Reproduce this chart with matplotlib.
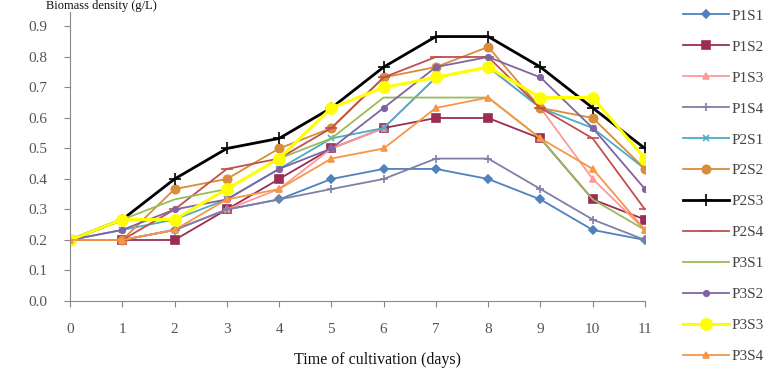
import numpy as np
import matplotlib
matplotlib.use("Agg")
import matplotlib.pyplot as plt

plt.rcParams['font.family'] = ['Liberation Serif', 'DejaVu Serif']

# days of cultivation
days = list(range(12))

# biomass per treatment (g/L)
p1s1 = [0.2, 0.2, 0.233, 0.3, 0.333, 0.4, 0.433, 0.433, 0.4, 0.333, 0.233, 0.2]
p1s2 = [0.2, 0.2, 0.2, 0.3, 0.4, 0.5, 0.567, 0.6, 0.6, 0.533, 0.333, 0.267]
p1s3 = [0.2, 0.2, 0.233, 0.3, 0.367, 0.5, 0.567, 0.733, 0.767, 0.633, 0.4, 0.233]
p1s4 = [0.2, 0.2, 0.233, 0.3, 0.333, 0.367, 0.4, 0.467, 0.467, 0.367, 0.267, 0.2]
p2s1 = [0.2, 0.233, 0.267, 0.333, 0.433, 0.533, 0.567, 0.733, 0.767, 0.633, 0.567, 0.433]
p2s2 = [0.2, 0.2, 0.367, 0.4, 0.5, 0.567, 0.733, 0.767, 0.833, 0.633, 0.6, 0.433]
p2s3 = [0.2, 0.267, 0.4, 0.5, 0.533, 0.633, 0.767, 0.867, 0.867, 0.767, 0.633, 0.5]
p2s4 = [0.2, 0.2, 0.3, 0.433, 0.467, 0.567, 0.733, 0.8, 0.8, 0.633, 0.533, 0.3]
p3s1 = [0.2, 0.267, 0.333, 0.367, 0.467, 0.533, 0.667, 0.667, 0.667, 0.533, 0.333, 0.233]
p3s2 = [0.2, 0.233, 0.3, 0.333, 0.433, 0.5, 0.633, 0.767, 0.8, 0.733, 0.567, 0.367]
p3s3 = [0.2, 0.267, 0.267, 0.367, 0.467, 0.633, 0.7, 0.733, 0.767, 0.667, 0.667, 0.467]
p3s4 = [0.2, 0.2, 0.233, 0.333, 0.367, 0.467, 0.5, 0.633, 0.667, 0.533, 0.433, 0.233]

labels = ['P1S1', 'P1S2', 'P1S3', 'P1S4', 'P2S1', 'P2S2',
          'P2S3', 'P2S4', 'P3S1', 'P3S2', 'P3S3', 'P3S4']
series = [p1s1, p1s2, p1s3, p1s4, p2s1, p2s2, p2s3, p2s4, p3s1, p3s2, p3s3, p3s4]

# (colour, marker, markersize, linewidth)
styles = [
    ('#4F81BD', 'D', 4, 1.3),
    ('#9B2D55', 's', 6, 1.3),
    ('#FF9999', '^', 5, 1.3),
    ('#7F7FA8', '+', 6, 1.3),
    ('#4BACC6', 'x', 4, 1.3),
    ('#D98C3A', 'o', 6, 1.3),
    ('#000000', '+', 8, 2.0),
    ('#C0504D', '_', 8, 1.3),
    ('#9BBB59', 'None', 4, 1.3),
    ('#8064A2', 'o', 4, 1.3),
    ('#FFFF00', 'o', 8, 2.2),
    ('#F79646', '^', 5, 1.3),
]

fig = plt.figure(figsize=(7.82, 3.72), dpi=100)
ax = fig.add_axes([70 / 782, 1 - 301 / 372, 575 / 782, 289 / 372])

for vals, lab, (c, m, ms, lw) in zip(series, labels, styles):
    ax.plot(days, vals, color=c, marker=m, markersize=ms, linewidth=lw,
            markeredgecolor=c, markeredgewidth=1.2, label=lab)

ax.set_xlim(0, 11)
ax.set_ylim(0, 0.9475)
ax.set_xticks(days)
ax.set_yticks(np.arange(0, 0.95, 0.1))
ax.set_yticklabels(['%.1f' % v for v in np.arange(0, 0.95, 0.1)])
ax.tick_params(direction='out', length=4, colors='#888888', labelcolor='#555555',
               labelsize=11)
ax.tick_params(axis='x', pad=12)
ax.tick_params(axis='y', pad=12)
for s in ['top', 'right']:
    ax.spines[s].set_visible(False)
for s in ['left', 'bottom']:
    ax.spines[s].set_color('#888888')

fig.text(377 / 782, 1 - 360 / 372, 'Time of cultivation (days)', ha='center',
         va='center', fontsize=11.5, color='#111111')
# y label sits at the very top edge of the picture
fig.text(157 / 782, 1.0, 'Biomass density (g/L)', ha='right',
         va='top', fontsize=9, color='#111111')

leg = fig.legend(loc='upper left', bbox_to_anchor=(683 / 782, 1 - 9 / 372),
                 frameon=False, fontsize=11, labelspacing=1.13, handlelength=3.0,
                 handletextpad=0.2, borderpad=0, borderaxespad=0)
for t in leg.get_texts():
    t.set_color('#444444')

fig.savefig('out.png', dpi=100)
